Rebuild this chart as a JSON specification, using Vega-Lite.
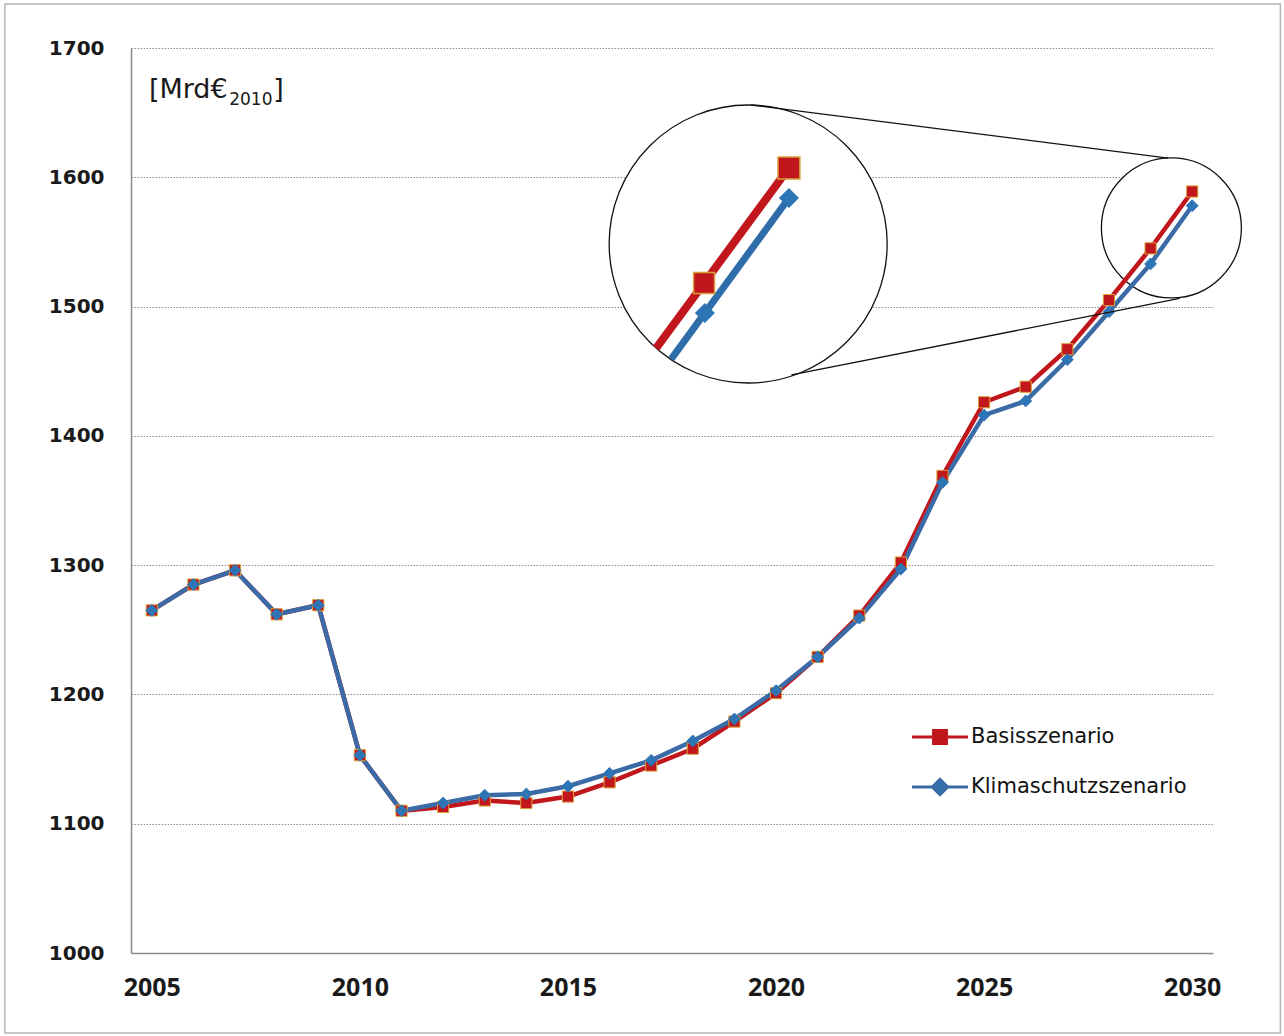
{
  "$schema": "https://vega.github.io/schema/vega-lite/v6.json",
  "width": 1082,
  "height": 905,
  "autosize": {"type": "none"},
  "padding": {"left": 131, "top": 48, "right": 71, "bottom": 83},
  "background": "white",
  "config": {
    "view": {"stroke": null},
    "axis": {"ticks": false, "domainColor": "#8a8a8a", "domainWidth": 1.5, "labelColor": "#1a1a1a", "labelFontWeight": "bold"}
  },
  "data": {
    "values": [
      {"year": 2005, "scenario": "Basisszenario", "value": 1265},
      {"year": 2006, "scenario": "Basisszenario", "value": 1285},
      {"year": 2007, "scenario": "Basisszenario", "value": 1296},
      {"year": 2008, "scenario": "Basisszenario", "value": 1262},
      {"year": 2009, "scenario": "Basisszenario", "value": 1269},
      {"year": 2010, "scenario": "Basisszenario", "value": 1153},
      {"year": 2011, "scenario": "Basisszenario", "value": 1110},
      {"year": 2012, "scenario": "Basisszenario", "value": 1113},
      {"year": 2013, "scenario": "Basisszenario", "value": 1118},
      {"year": 2014, "scenario": "Basisszenario", "value": 1116},
      {"year": 2015, "scenario": "Basisszenario", "value": 1121},
      {"year": 2016, "scenario": "Basisszenario", "value": 1132},
      {"year": 2017, "scenario": "Basisszenario", "value": 1145},
      {"year": 2018, "scenario": "Basisszenario", "value": 1158},
      {"year": 2019, "scenario": "Basisszenario", "value": 1179},
      {"year": 2020, "scenario": "Basisszenario", "value": 1201},
      {"year": 2021, "scenario": "Basisszenario", "value": 1229},
      {"year": 2022, "scenario": "Basisszenario", "value": 1261},
      {"year": 2023, "scenario": "Basisszenario", "value": 1302},
      {"year": 2024, "scenario": "Basisszenario", "value": 1369},
      {"year": 2025, "scenario": "Basisszenario", "value": 1426},
      {"year": 2026, "scenario": "Basisszenario", "value": 1438},
      {"year": 2027, "scenario": "Basisszenario", "value": 1467},
      {"year": 2028, "scenario": "Basisszenario", "value": 1505},
      {"year": 2029, "scenario": "Basisszenario", "value": 1545},
      {"year": 2030, "scenario": "Basisszenario", "value": 1589},
      {"year": 2005, "scenario": "Klimaschutzszenario", "value": 1265},
      {"year": 2006, "scenario": "Klimaschutzszenario", "value": 1285},
      {"year": 2007, "scenario": "Klimaschutzszenario", "value": 1296},
      {"year": 2008, "scenario": "Klimaschutzszenario", "value": 1262},
      {"year": 2009, "scenario": "Klimaschutzszenario", "value": 1269},
      {"year": 2010, "scenario": "Klimaschutzszenario", "value": 1153},
      {"year": 2011, "scenario": "Klimaschutzszenario", "value": 1110},
      {"year": 2012, "scenario": "Klimaschutzszenario", "value": 1116},
      {"year": 2013, "scenario": "Klimaschutzszenario", "value": 1122},
      {"year": 2014, "scenario": "Klimaschutzszenario", "value": 1123},
      {"year": 2015, "scenario": "Klimaschutzszenario", "value": 1129},
      {"year": 2016, "scenario": "Klimaschutzszenario", "value": 1139},
      {"year": 2017, "scenario": "Klimaschutzszenario", "value": 1149},
      {"year": 2018, "scenario": "Klimaschutzszenario", "value": 1164},
      {"year": 2019, "scenario": "Klimaschutzszenario", "value": 1181},
      {"year": 2020, "scenario": "Klimaschutzszenario", "value": 1203},
      {"year": 2021, "scenario": "Klimaschutzszenario", "value": 1229},
      {"year": 2022, "scenario": "Klimaschutzszenario", "value": 1259},
      {"year": 2023, "scenario": "Klimaschutzszenario", "value": 1297},
      {"year": 2024, "scenario": "Klimaschutzszenario", "value": 1364},
      {"year": 2025, "scenario": "Klimaschutzszenario", "value": 1416},
      {"year": 2026, "scenario": "Klimaschutzszenario", "value": 1427},
      {"year": 2027, "scenario": "Klimaschutzszenario", "value": 1459},
      {"year": 2028, "scenario": "Klimaschutzszenario", "value": 1496},
      {"year": 2029, "scenario": "Klimaschutzszenario", "value": 1533},
      {"year": 2030, "scenario": "Klimaschutzszenario", "value": 1578}
    ]
  },
  "layer": [
    {
      "data": {"values": [{}]},
      "mark": {"type": "rect", "fillOpacity": 0, "stroke": "#b4b4b4", "strokeWidth": 1.5},
      "encoding": {
        "x": {"datum": 2001.47, "type": "quantitative", "title": null},
        "x2": {"datum": 2032.12},
        "y": {"datum": 938.1, "type": "quantitative", "title": null},
        "y2": {"datum": 1734.0}
      }
    },
    {
      "data": {"values": [{}]},
      "mark": {"type": "point", "shape": "circle", "filled": false, "fill": "white", "fillOpacity": 1, "stroke": "#111", "strokeWidth": 1.3, "opacity": 1, "size": 19600},
      "encoding": {
        "x": {"datum": 2029.5, "type": "quantitative", "title": null},
        "y": {"datum": 1560.8, "type": "quantitative", "title": null}
      }
    },
    {
      "mark": {"type": "line", "strokeWidth": 4.5},
      "encoding": {
        "x": {"field": "year", "type": "quantitative", "title": null,
          "scale": {"domain": [2004.5, 2030.5], "nice": false, "zero": false},
          "axis": {"values": [2005, 2010, 2015, 2020, 2025, 2030], "format": "d", "grid": false, "labelFont": "Open Sans", "labelFontSize": 25, "labelPadding": 22}},
        "y": {"field": "value", "type": "quantitative", "title": null,
          "scale": {"domain": [1000, 1700], "nice": false, "zero": false},
          "axis": {"values": [1000, 1100, 1200, 1300, 1400, 1500, 1600, 1700], "format": "d", "grid": true, "gridColor": "#8c8c8c", "gridDash": [1.5, 1.5], "gridWidth": 1, "labelFont": "DejaVu Sans", "labelFontSize": 20, "labelPadding": 27}},
        "color": {"field": "scenario", "type": "nominal",
          "scale": {"domain": ["Basisszenario", "Klimaschutzszenario"], "range": ["#C0161C", "#3B6BA6"]},
          "legend": {
            "orient": "none", "legendX": 793.5, "legendY": 673.5, "title": null, "padding": 0,
            "labelFont": "DejaVu Sans", "labelFontSize": 21, "labelColor": "#111", "labelFontWeight": "normal", "labelLimit": 0,
            "rowPadding": 22, "symbolSize": 784, "symbolStrokeWidth": 3, "symbolOffset": 0, "labelOffset": 15.5,
            "encode": {"symbols": {"update": {
              "shape": {"signal": "datum.value === 'Basisszenario' ? 'M-2,0L2,0M-0.46,-0.46L0.46,-0.46L0.46,0.46L-0.46,0.46Z' : 'M-2,0L2,0M0,-0.55L0.55,0L0,0.55L-0.55,0Z'"},
              "fill": {"signal": "datum.value === 'Basisszenario' ? '#C0161C' : '#2E75B6'"},
              "stroke": {"signal": "datum.value === 'Basisszenario' ? '#C0161C' : '#3B6BA6'"},
              "strokeWidth": {"value": 3},
              "opacity": {"value": 1}
            }}}
          }
        }
      }
    },
    {
      "transform": [{"filter": "datum.scenario === 'Basisszenario'"}],
      "mark": {"type": "point", "shape": "square", "filled": true, "fill": "#C0161C", "stroke": "#D9A23A", "size": 125, "opacity": 1, "strokeWidth": 1},
      "encoding": {
        "x": {"field": "year", "type": "quantitative", "title": null},
        "y": {"field": "value", "type": "quantitative", "title": null}
      }
    },
    {
      "transform": [{"filter": "datum.scenario === 'Klimaschutzszenario'"}],
      "mark": {"type": "point", "shape": "diamond", "filled": true, "fill": "#2E75B6", "stroke": "#2E75B6", "size": 140, "opacity": 1, "strokeWidth": 1},
      "encoding": {
        "x": {"field": "year", "type": "quantitative", "title": null},
        "y": {"field": "value", "type": "quantitative", "title": null}
      }
    },
    {
      "data": {"values": [{}]},
      "mark": {"type": "point", "shape": "circle", "filled": false, "fill": "white", "fillOpacity": 1, "stroke": "#111", "strokeWidth": 1.3, "opacity": 1, "size": 77284},
      "encoding": {
        "x": {"datum": 2019.33, "type": "quantitative", "title": null},
        "y": {"datum": 1548.4, "type": "quantitative", "title": null}
      }
    },
    {
      "data": {"values": [{}]},
      "mark": {"type": "rule", "color": "#C0161C", "strokeWidth": 8},
      "encoding": {
        "x": {"datum": 2017.12, "type": "quantitative", "title": null},
        "y": {"datum": 1467.9, "type": "quantitative", "title": null},
        "x2": {"datum": 2020.31},
        "y2": {"datum": 1607.2}
      }
    },
    {
      "data": {"values": [{}]},
      "mark": {"type": "rule", "color": "#2F6DAA", "strokeWidth": 7},
      "encoding": {
        "x": {"datum": 2017.48, "type": "quantitative", "title": null},
        "y": {"datum": 1459.4, "type": "quantitative", "title": null},
        "x2": {"datum": 2020.31},
        "y2": {"datum": 1584.0}
      }
    },
    {
      "data": {"values": [{}]},
      "mark": {"type": "point", "shape": "square", "filled": true, "fill": "#C0161C", "stroke": "#D9A23A", "strokeWidth": 1.5, "opacity": 1, "size": 440},
      "encoding": {
        "x": {"datum": 2018.27, "type": "quantitative", "title": null},
        "y": {"datum": 1518.2, "type": "quantitative", "title": null}
      }
    },
    {
      "data": {"values": [{}]},
      "mark": {"type": "point", "shape": "square", "filled": true, "fill": "#C0161C", "stroke": "#D9A23A", "strokeWidth": 1.5, "opacity": 1, "size": 480},
      "encoding": {
        "x": {"datum": 2020.31, "type": "quantitative", "title": null},
        "y": {"datum": 1607.2, "type": "quantitative", "title": null}
      }
    },
    {
      "data": {"values": [{}]},
      "mark": {"type": "point", "shape": "diamond", "filled": true, "fill": "#2E75B6", "opacity": 1, "size": 400},
      "encoding": {
        "x": {"datum": 2018.29, "type": "quantitative", "title": null},
        "y": {"datum": 1495.0, "type": "quantitative", "title": null}
      }
    },
    {
      "data": {"values": [{}]},
      "mark": {"type": "point", "shape": "diamond", "filled": true, "fill": "#2E75B6", "opacity": 1, "size": 400},
      "encoding": {
        "x": {"datum": 2020.31, "type": "quantitative", "title": null},
        "y": {"datum": 1584.0, "type": "quantitative", "title": null}
      }
    },
    {
      "data": {"values": [{}]},
      "mark": {"type": "rule", "color": "#111", "strokeWidth": 1.3},
      "encoding": {
        "x": {"datum": 2019.40, "type": "quantitative", "title": null},
        "y": {"datum": 1655.9, "type": "quantitative", "title": null},
        "x2": {"datum": 2029.42},
        "y2": {"datum": 1614.9}
      }
    },
    {
      "data": {"values": [{}]},
      "mark": {"type": "rule", "color": "#111", "strokeWidth": 1.3},
      "encoding": {
        "x": {"datum": 2020.37, "type": "quantitative", "title": null},
        "y": {"datum": 1447.1, "type": "quantitative", "title": null},
        "x2": {"datum": 2029.70},
        "y2": {"datum": 1506.4}
      }
    },
    {
      "data": {"values": [{"t": "[Mrd€"}]},
      "mark": {"type": "text", "align": "left", "baseline": "alphabetic", "font": "DejaVu Sans", "fontSize": 27, "color": "#1a1a1a"},
      "encoding": {
        "text": {"field": "t"},
        "x": {"datum": 2004.93, "type": "quantitative", "title": null},
        "y": {"datum": 1661.3, "type": "quantitative", "title": null}
      }
    },
    {
      "data": {"values": [{"t": "2010"}]},
      "mark": {"type": "text", "align": "left", "baseline": "alphabetic", "font": "DejaVu Sans", "fontSize": 17, "color": "#1a1a1a"},
      "encoding": {
        "text": {"field": "t"},
        "x": {"datum": 2006.86, "type": "quantitative", "title": null},
        "y": {"datum": 1655.9, "type": "quantitative", "title": null}
      }
    },
    {
      "data": {"values": [{"t": "]"}]},
      "mark": {"type": "text", "align": "left", "baseline": "alphabetic", "font": "DejaVu Sans", "fontSize": 27, "color": "#1a1a1a"},
      "encoding": {
        "text": {"field": "t"},
        "x": {"datum": 2007.92, "type": "quantitative", "title": null},
        "y": {"datum": 1661.3, "type": "quantitative", "title": null}
      }
    }
  ]
}
